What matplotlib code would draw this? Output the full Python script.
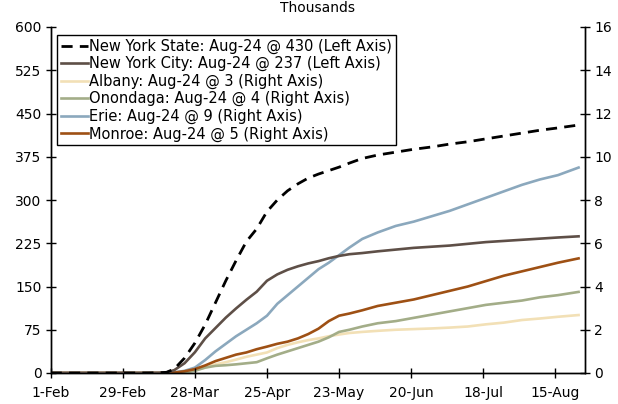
import matplotlib
matplotlib.use("Agg")
import matplotlib.pyplot as plt
import numpy as np
import datetime as dt

plt.rcParams['font.family'] = ['DejaVu Sans']

# ---- data (thousands of cumulative cases, 2020) ----
dates = ["2020-02-01", "2020-03-01", "2020-03-10", "2020-03-14", "2020-03-17", "2020-03-20",
         "2020-03-24", "2020-03-28", "2020-04-01", "2020-04-05", "2020-04-09", "2020-04-13",
         "2020-04-17", "2020-04-21", "2020-04-25", "2020-04-29", "2020-05-03", "2020-05-07",
         "2020-05-11", "2020-05-15", "2020-05-19", "2020-05-23", "2020-05-27", "2020-06-01",
         "2020-06-07", "2020-06-14", "2020-06-21", "2020-06-28", "2020-07-05", "2020-07-12",
         "2020-07-19", "2020-07-26", "2020-08-02", "2020-08-09", "2020-08-16", "2020-08-24"]

ny_state = [0, 0, 0.1, 0.4, 1.2, 7, 26, 52, 84, 122, 160, 195, 228, 250, 280, 300, 316, 328,
            338, 345, 351, 357, 364, 372, 378, 383, 388, 392, 397, 401, 406, 411, 416, 421, 425, 430]
ny_city = [0, 0, 0, 0.2, 1.0, 5, 17, 36, 60, 78, 96, 112, 127, 141, 160, 171, 179, 185,
           190, 194, 199, 203, 206, 208, 211, 214, 217, 219, 221, 224, 227, 229, 231, 233, 235, 237]
albany = [0, 0, 0, 0, 0.005, 0.02, 0.06, 0.15, 0.25, 0.4, 0.5, 0.62, 0.75, 0.85, 0.95, 1.15,
          1.3, 1.42, 1.52, 1.6, 1.7, 1.78, 1.85, 1.9, 1.95, 2.0, 2.03, 2.06, 2.1, 2.15, 2.25,
          2.33, 2.45, 2.52, 2.6, 2.68]
onondaga = [0, 0, 0, 0, 0, 0.01, 0.03, 0.1, 0.25, 0.33, 0.36, 0.4, 0.45, 0.5, 0.68, 0.85,
            1.0, 1.15, 1.3, 1.45, 1.65, 1.9, 2.0, 2.15, 2.3, 2.4, 2.55, 2.7, 2.85, 3.0, 3.15,
            3.25, 3.35, 3.5, 3.6, 3.75]
erie = [0, 0, 0, 0, 0.005, 0.03, 0.1, 0.25, 0.6, 1.0, 1.35, 1.7, 2.0, 2.3, 2.65, 3.2, 3.6,
        4.0, 4.4, 4.8, 5.1, 5.45, 5.8, 6.2, 6.5, 6.8, 7.0, 7.25, 7.5, 7.8, 8.1, 8.4, 8.7, 8.95,
        9.15, 9.5]
monroe = [0, 0, 0, 0, 0.005, 0.02, 0.08, 0.18, 0.35, 0.55, 0.7, 0.85, 0.95, 1.1, 1.22, 1.35,
          1.45, 1.6, 1.8, 2.05, 2.4, 2.65, 2.75, 2.9, 3.1, 3.25, 3.4, 3.6, 3.8, 4.0, 4.25, 4.5,
          4.7, 4.9, 5.1, 5.3]

labels = ["New York State: Aug-24 @ 430 (Left Axis)",
          "New York City: Aug-24 @ 237 (Left Axis)",
          "Albany: Aug-24 @ 3 (Right Axis)",
          "Onondaga: Aug-24 @ 4 (Right Axis)",
          "Erie: Aug-24 @ 9 (Right Axis)",
          "Monroe: Aug-24 @ 5 (Right Axis)"]

left_ticks = [0, 75, 150, 225, 300, 375, 450, 525, 600]
right_ticks = [0, 2, 4, 6, 8, 10, 12, 14, 16]

x = np.array([dt.datetime.strptime(d, "%Y-%m-%d") for d in dates])

c_nys = "#000000"
c_nyc = "#5E4F47"
c_alb = "#F2E0B6"
c_ono = "#A3AD88"
c_eri = "#8BA8BD"
c_mon = "#9E5014"

fig = plt.figure(figsize=(6.18, 4.04), dpi=100)
ax = fig.add_axes([50.7/618, 1-373/404, (585-50.7)/618, (373-27)/404])
ax2 = ax.twinx()

lw = 1.9
h_alb, = ax2.plot(x, albany, color=c_alb, lw=lw)
h_ono, = ax2.plot(x, onondaga, color=c_ono, lw=lw)
h_eri, = ax2.plot(x, erie, color=c_eri, lw=lw)
h_mon, = ax2.plot(x, monroe, color=c_mon, lw=lw)
h_nyc, = ax.plot(x, ny_city, color=c_nyc, lw=lw)
h_nys, = ax.plot(x, ny_state, color=c_nys, lw=2.0, dashes=(4, 2.6))

ax.set_zorder(ax2.get_zorder() + 1)
ax.patch.set_visible(False)

ax.set_ylim(0, 600)
ax.set_yticks(left_ticks)
ax2.set_ylim(0, 16)
ax2.set_yticks(right_ticks)

x0 = dt.datetime(2020, 2, 1)
ax.set_xlim(x0, dt.datetime(2020, 8, 26, 12))
xt = [x0 + dt.timedelta(days=28 * i) for i in range(8)]
ax.set_xticks(xt)
ax.set_xticklabels([f"{d.day}-{d.strftime('%b')}" for d in xt])

for a in (ax, ax2):
    a.spines['top'].set_visible(False)
    for s in a.spines.values():
        s.set_linewidth(1.0)
    a.tick_params(direction='inout', length=7, width=1.0, labelsize=10, colors='black', pad=3)
ax.tick_params(axis='x', pad=6)

ax.legend([h_nys, h_nyc, h_alb, h_ono, h_eri, h_mon], labels,
          loc='upper left', bbox_to_anchor=(57/618, 1-35/404), bbox_transform=fig.transFigure,
          fontsize=10.5, frameon=True, fancybox=False, edgecolor='black', framealpha=1,
          handlelength=1.9, handletextpad=0.05, labelspacing=0.16, borderpad=0.25,
          borderaxespad=0)

fig.text(318/618, 1-8/404, "Thousands", ha='center', va='center', fontsize=10)

fig.savefig("out.png", dpi=100)
